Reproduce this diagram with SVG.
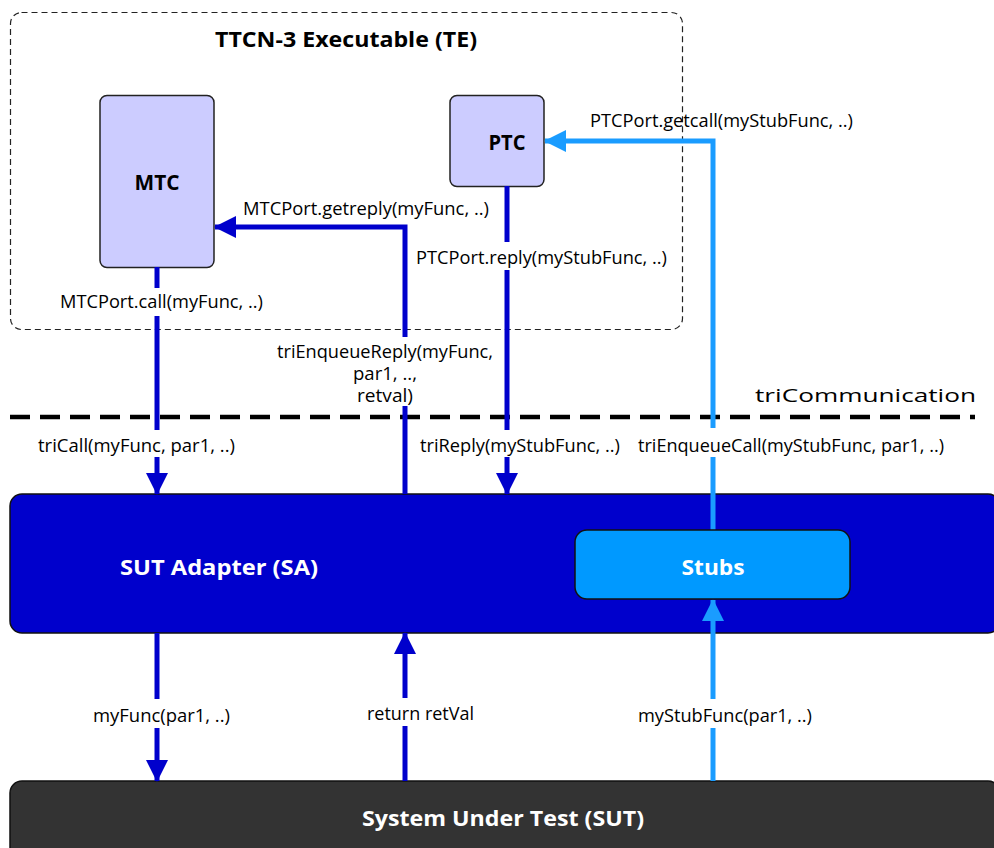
<svg xmlns="http://www.w3.org/2000/svg" width="994" height="848" viewBox="0 0 994 848">
  <style>
    .lbl { font-family: "Open Sans", "Noto Sans", "Liberation Sans", sans-serif; font-size: 17.5px; fill: #000; }
    .ttl { font-family: "Open Sans", "Noto Sans", "Liberation Sans", sans-serif; font-size: 22px; font-weight: bold; }
    .dk { stroke: #0000cc; stroke-width: 5; fill: none; }
    .lt { stroke: #1a9cff; stroke-width: 5; fill: none; }
    .comp { fill: #ccccff; stroke: #222; stroke-width: 1.5; }
  </style>
  <defs>
    <marker id="ahDark" viewBox="0 0 22 22" refX="21" refY="11" markerWidth="22" markerHeight="22" markerUnits="userSpaceOnUse" orient="auto">
      <path d="M0,0 L22,11 L0,22 Z" fill="#0000cc"/>
    </marker>
    <marker id="ahLight" viewBox="0 0 22 22" refX="21" refY="11" markerWidth="22" markerHeight="22" markerUnits="userSpaceOnUse" orient="auto">
      <path d="M0,0 L22,11 L0,22 Z" fill="#1a9cff"/>
    </marker>
  </defs>

  <rect width="994" height="848" fill="#fff"/>

  <!-- Test executable frame -->
  <g id="te">
    <rect x="10.5" y="12.5" width="672" height="317" rx="11" fill="none" stroke="#222" stroke-width="1.2" stroke-dasharray="6,4"/>
    <text class="ttl" x="346" y="47" text-anchor="middle" font-size="23" textLength="262" lengthAdjust="spacingAndGlyphs">TTCN-3 Executable (TE)</text>
  </g>

  <g id="mtc">
    <rect class="comp" x="100" y="95.5" width="114" height="172" rx="7"/>
    <text class="ttl" x="157" y="190" text-anchor="middle" font-size="20" textLength="45" lengthAdjust="spacingAndGlyphs">MTC</text>
  </g>

  <g id="ptc">
    <rect class="comp" x="450" y="95.5" width="94" height="91" rx="7"/>
    <text class="ttl" x="507" y="150" text-anchor="middle" font-size="20" textLength="37" lengthAdjust="spacingAndGlyphs">PTC</text>
  </g>

  <!-- triCommunication interface boundary -->
  <g id="tri">
    <line x1="10" y1="417" x2="975" y2="417" stroke="#000" stroke-width="4.5" stroke-dasharray="20,10"/>
    <text class="lbl" x="976" y="402" text-anchor="end" font-size="28" textLength="221" lengthAdjust="spacingAndGlyphs">triCommunication</text>
  </g>

  <g id="sa">
    <rect x="10" y="494" width="990" height="139" rx="12" fill="#0000cc" stroke="#111" stroke-width="1.5"/>
    <text class="ttl" x="219" y="575" text-anchor="middle" fill="#fff" font-size="23" textLength="198" lengthAdjust="spacingAndGlyphs">SUT Adapter (SA)</text>
  </g>

  <g id="sut">
    <rect x="10" y="781" width="990" height="80" rx="12" fill="#333333" stroke="#111" stroke-width="1.5"/>
    <text class="ttl" x="503" y="826" text-anchor="middle" fill="#fff" font-size="23" textLength="282" lengthAdjust="spacingAndGlyphs">System Under Test (SUT)</text>
  </g>

  <!-- Connectors -->
  <g id="connectors">
    <!-- MTC call -->
    <line class="dk" x1="157" y1="267" x2="157" y2="288"/>
    <line class="dk" x1="157" y1="316" x2="157" y2="430"/>
    <line class="dk" x1="157" y1="457" x2="157" y2="494" marker-end="url(#ahDark)"/>
    <!-- reply to MTC -->
    <line class="dk" x1="405" y1="494" x2="405" y2="406"/>
    <polyline class="dk" points="405,337 405,227 215,227" marker-end="url(#ahDark)"/>
    <!-- PTC reply -->
    <line class="dk" x1="507" y1="186" x2="507" y2="242"/>
    <line class="dk" x1="507" y1="270" x2="507" y2="430"/>
    <line class="dk" x1="507" y1="457" x2="507" y2="494" marker-end="url(#ahDark)"/>
    <!-- enqueue call to PTC -->
    <line class="lt" x1="713" y1="530" x2="713" y2="457"/>
    <polyline class="lt" points="713,428 713,141 545,141" marker-end="url(#ahLight)"/>
    <!-- SA to SUT -->
    <line class="dk" x1="157" y1="633" x2="157" y2="699"/>
    <line class="dk" x1="157" y1="728" x2="157" y2="781" marker-end="url(#ahDark)"/>
    <line class="dk" x1="405" y1="781" x2="405" y2="726"/>
    <line class="dk" x1="405" y1="698" x2="405" y2="633" marker-end="url(#ahDark)"/>
    <line class="lt" x1="713" y1="781" x2="713" y2="728"/>
    <line class="lt" x1="713" y1="699" x2="713" y2="600" marker-end="url(#ahLight)"/>
  </g>

  <g id="stubs">
    <rect x="575" y="530" width="275" height="69" rx="12" fill="#0099ff" stroke="#111" stroke-width="1.5"/>
    <text class="ttl" x="713" y="575" text-anchor="middle" fill="#fff" font-size="23" textLength="63" lengthAdjust="spacingAndGlyphs">Stubs</text>
  </g>

  <!-- Connector labels -->
  <g id="labels">
    <text class="lbl" x="60" y="308" textLength="203" lengthAdjust="spacingAndGlyphs">MTCPort.call(myFunc, ..)</text>
    <text class="lbl" x="243" y="215" textLength="246" lengthAdjust="spacingAndGlyphs">MTCPort.getreply(myFunc, ..)</text>
    <text class="lbl" x="590" y="127" textLength="263" lengthAdjust="spacingAndGlyphs">PTCPort.getcall(myStubFunc, ..)</text>
    <text class="lbl" x="416" y="264" textLength="251" lengthAdjust="spacingAndGlyphs">PTCPort.reply(myStubFunc, ..)</text>
    <text class="lbl" x="385" y="358" text-anchor="middle" font-size="16" textLength="216" lengthAdjust="spacingAndGlyphs">triEnqueueReply(myFunc,</text>
    <text class="lbl" x="385" y="380" text-anchor="middle" font-size="16" textLength="64" lengthAdjust="spacingAndGlyphs">par1, ..,</text>
    <text class="lbl" x="385" y="402" text-anchor="middle" font-size="16" textLength="56" lengthAdjust="spacingAndGlyphs">retval)</text>
    <text class="lbl" x="38" y="452" textLength="197" lengthAdjust="spacingAndGlyphs">triCall(myFunc, par1, ..)</text>
    <text class="lbl" x="420" y="452" textLength="200" lengthAdjust="spacingAndGlyphs">triReply(myStubFunc, ..)</text>
    <text class="lbl" x="638" y="452" textLength="306" lengthAdjust="spacingAndGlyphs">triEnqueueCall(myStubFunc, par1, ..)</text>
    <text class="lbl" x="93" y="722" textLength="137" lengthAdjust="spacingAndGlyphs">myFunc(par1, ..)</text>
    <text class="lbl" x="367" y="720" textLength="107" lengthAdjust="spacingAndGlyphs">return retVal</text>
    <text class="lbl" x="638" y="722" textLength="174" lengthAdjust="spacingAndGlyphs">myStubFunc(par1, ..)</text>
  </g>
</svg>
